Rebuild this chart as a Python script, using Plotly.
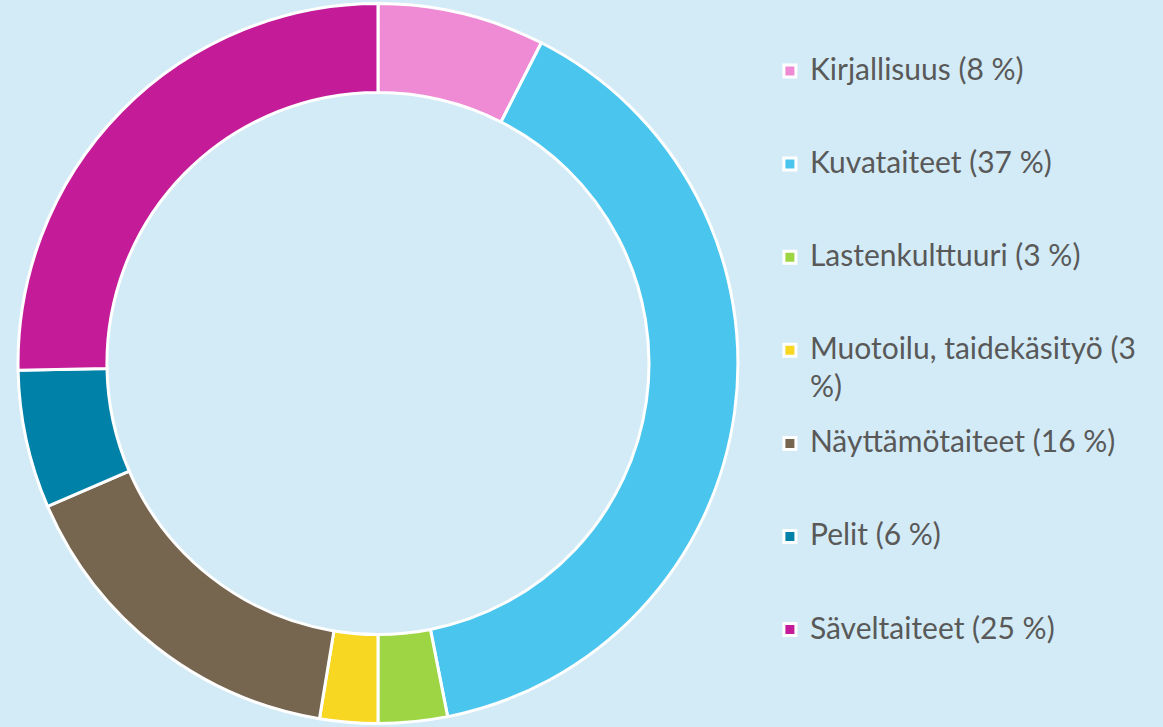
import plotly.graph_objects as go

categories = ["Kirjallisuus", "Kuvataiteet", "Lastenkulttuuri", "Muotoilu, taidekäsityö",
              "Näyttämötaiteet", "Pelit", "Säveltaiteet"]
shares = [7.5, 39.4, 3.1, 2.6, 15.9, 6.2, 25.3]
legend_labels = ["Kirjallisuus (8 %)", "Kuvataiteet (37 %)", "Lastenkulttuuri (3 %)",
                 "Muotoilu, taidekäsityö (3<br>%)", "Näyttämötaiteet (16 %)",
                 "Pelit (6 %)", "Säveltaiteet (25 %)"]
colors = ["#EF8BD5", "#4AC6EE", "#9DD545", "#F7D722", "#76654F", "#0081A8", "#C41B99"]

def pad(lbl):
    lines = lbl.split("<br>")
    parts = []
    for i, ln in enumerate(lines):
        style = "font-size:30px" if i == 0 else "font-size:30px;baseline-shift:-8px"
        parts.append("<span style='%s'>%s</span>" % (style, ln))
    return "<br>".join(parts) + "<br> " * (3 - len(lines))

fig = go.Figure(go.Pie(
    labels=[pad(l) for l in legend_labels],
    values=shares,
    sort=False,
    direction="clockwise",
    rotation=0,
    hole=0.753,
    textinfo="none",
    marker=dict(colors=colors, line=dict(color="white", width=3)),
    domain=dict(x=[0.0155, 0.6345], y=[0, 1]),
))

fig.update_layout(
    width=1163, height=727,
    margin=dict(l=0, r=0, t=0, b=0),
    paper_bgcolor="#D3EBF6",
    plot_bgcolor="#D3EBF6",
    showlegend=True,
    legend=dict(x=0.662, y=1 - 49.5/727, xanchor="left", yanchor="top",
                valign="top", bgcolor="rgba(0,0,0,0)",
                font=dict(family="Lato", size=23.1, color="#595959")),
)

fig.write_html("out.html", config={"displayModeBar": False},
               post_script="document.body.style.margin='0';")
